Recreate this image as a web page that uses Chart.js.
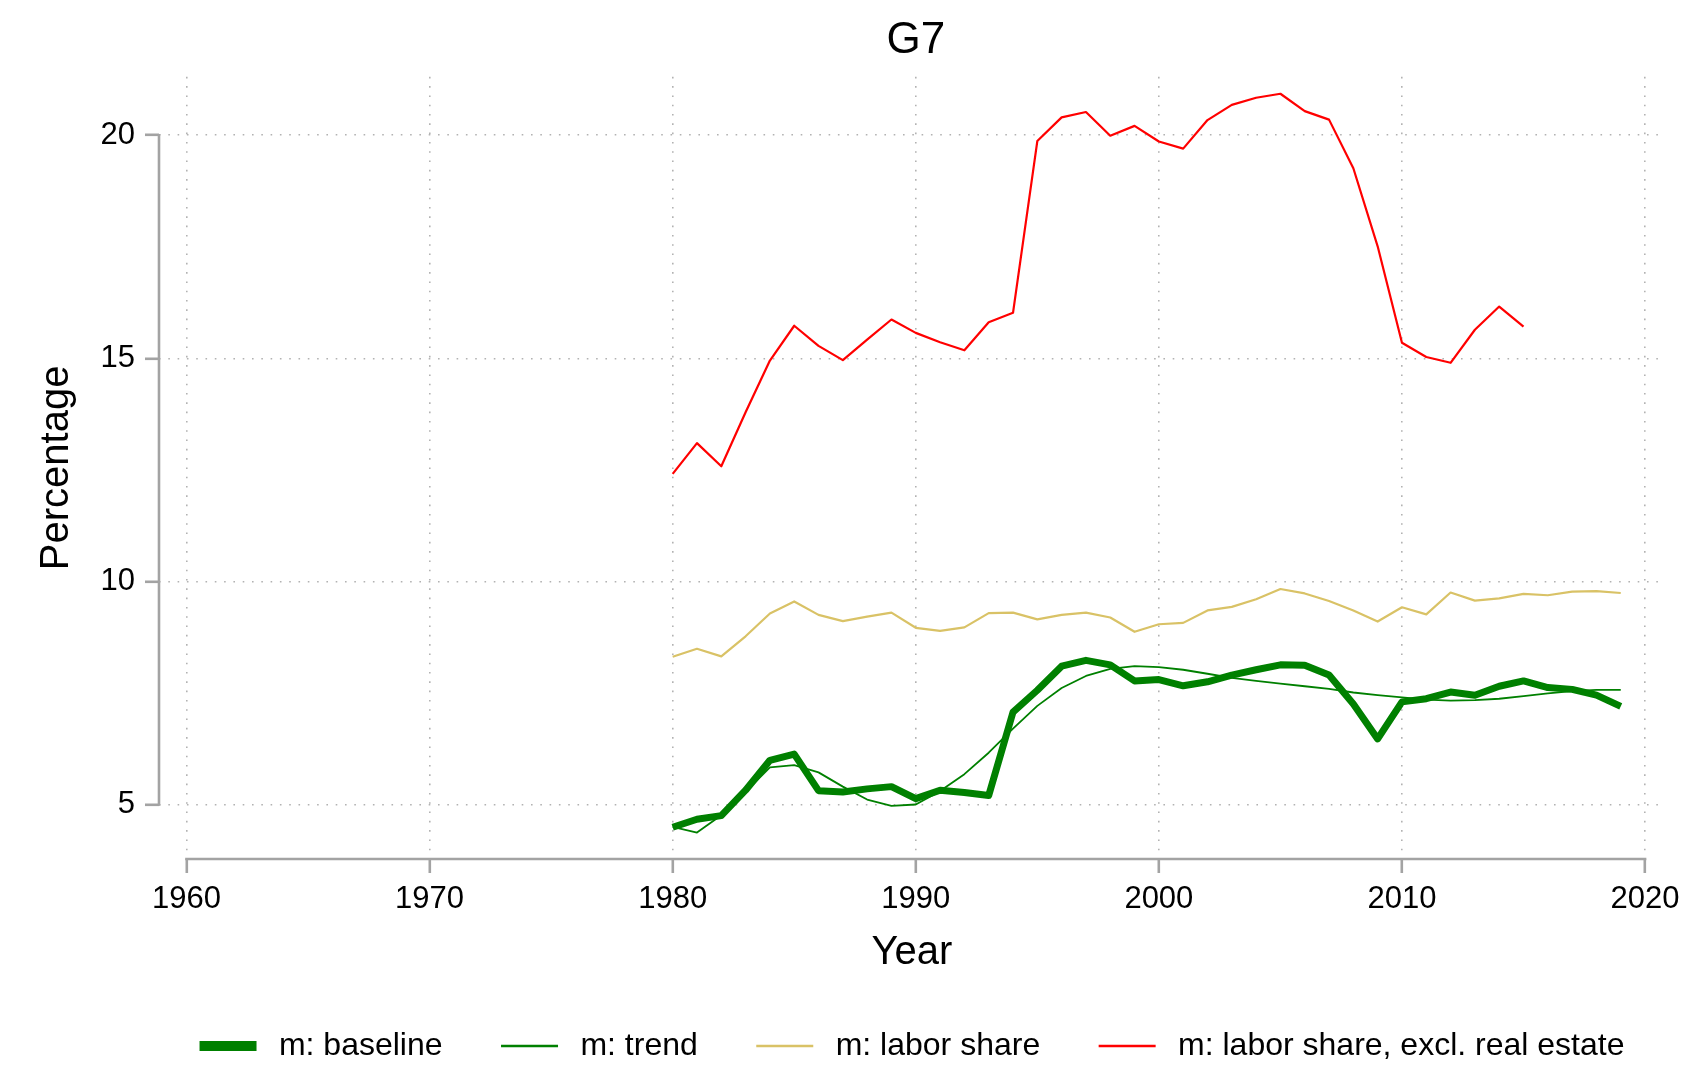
<!DOCTYPE html>
<html>
<head>
<meta charset="utf-8">
<script src="https://cdn.jsdelivr.net/npm/chart.js@4.4.1/dist/chart.umd.min.js"></script>
<style>
  html, body { margin: 0; padding: 0; background: #ffffff; }
  #wrap { width: 1689px; height: 1066px; }
</style>
</head>
<body>
<div id="wrap"><canvas id="c" width="1689" height="1066"></canvas></div>
<script>
// ---- data ----
const chartTitle = 'G7';
const xTitle = 'Year';
const yTitle = 'Percentage';
const xTicks = [1960, 1970, 1980, 1990, 2000, 2010, 2020];
const yTicks = [5, 10, 15, 20];

const years = [1980, 1981, 1982, 1983, 1984, 1985, 1986, 1987, 1988, 1989,
               1990, 1991, 1992, 1993, 1994, 1995, 1996, 1997, 1998, 1999,
               2000, 2001, 2002, 2003, 2004, 2005, 2006, 2007, 2008, 2009,
               2010, 2011, 2012, 2013, 2014, 2015, 2016, 2017, 2018, 2019];

const baseline = [4.49, 4.67, 4.75, 5.32, 5.99, 6.13, 5.31, 5.28, 5.35, 5.40,
                  5.13, 5.32, 5.27, 5.20, 7.07, 7.56, 8.10, 8.23, 8.13, 7.77,
                  7.80, 7.66, 7.75, 7.90, 8.02, 8.13, 8.12, 7.90, 7.25, 6.47,
                  7.30, 7.37, 7.52, 7.45, 7.65, 7.77, 7.62, 7.58, 7.45, 7.20];

const trend = [4.50, 4.37, 4.76, 5.28, 5.83, 5.88, 5.72, 5.40, 5.11, 4.97,
               5.00, 5.30, 5.68, 6.16, 6.70, 7.21, 7.61, 7.88, 8.04, 8.10,
               8.08, 8.02, 7.93, 7.84, 7.77, 7.71, 7.65, 7.59, 7.51, 7.45,
               7.40, 7.35, 7.33, 7.34, 7.37, 7.43, 7.49, 7.54, 7.57, 7.57];

const laborShare = [8.31, 8.49, 8.32, 8.77, 9.28, 9.55, 9.25, 9.11, 9.21, 9.30,
                    8.96, 8.89, 8.97, 9.29, 9.30, 9.15, 9.25, 9.30, 9.19, 8.87,
                    9.04, 9.07, 9.35, 9.43, 9.60, 9.83, 9.73, 9.56, 9.35, 9.10,
                    9.42, 9.26, 9.75, 9.57, 9.62, 9.72, 9.69, 9.77, 9.78, 9.74];

const laborShareExRE = [12.41, 13.10, 12.58, 13.79, 14.95, 15.73, 15.28, 14.96, 15.42, 15.87,
                        15.57, 15.36, 15.18, 15.81, 16.02, 19.87, 20.40, 20.52, 19.99, 20.21,
                        19.86, 19.70, 20.34, 20.68, 20.84, 20.93, 20.54, 20.35, 19.26, 17.51,
                        15.35, 15.03, 14.90, 15.64, 16.16, 15.71];

const seriesLabels = ['m: baseline', 'm: trend', 'm: labor share', 'm: labor share, excl. real estate'];

// ---- styling ----
const FONT = 'Helvetica, "Liberation Sans", Arial, sans-serif';
const axisColor = '#a3a3a3';
const gridColor = '#b2b2b2';
const colors = ['#008000', '#008000', '#d9c266', '#ff0000'];
const widths = [7, 1.8, 2.2, 2.2];
const legendWidths = [10, 2.6, 2.6, 2.6];

function pts(vals) { return vals.map((v, i) => ({ x: years[i], y: v })); }

const seriesValues = [baseline, trend, laborShare, laborShareExRE];
const datasets = seriesValues.map((vals, i) => ({
  label: seriesLabels[i],
  data: pts(vals),
  borderColor: colors[i],
  backgroundColor: colors[i],
  borderWidth: widths[i],
  pointRadius: 0,
  tension: 0,
  borderJoinStyle: 'round',
  borderCapStyle: 'butt',
  order: seriesValues.length - 1 - i
}));

const axisLines = {
  id: 'axisLines',
  afterLayout(chart) {
    // centre the title on the x-axis range (as in the reference)
    const x = chart.scales.x;
    const t = chart.titleBlock;
    if (t && x) {
      t.left = x.getPixelForValue(xTicks[0]);
      t.right = x.getPixelForValue(xTicks[xTicks.length - 1]);
      t.width = t.right - t.left;
    }
  },
  beforeDatasetsDraw(chart) {
    const { ctx, chartArea, scales } = chart;
    const x = scales.x, y = scales.y;
    ctx.save();
    ctx.strokeStyle = axisColor;
    ctx.lineWidth = 2.6;
    ctx.lineCap = 'square';
    ctx.beginPath();
    ctx.moveTo(chartArea.left, y.getPixelForValue(yTicks[yTicks.length - 1]));
    ctx.lineTo(chartArea.left, y.getPixelForValue(yTicks[0]));
    ctx.moveTo(x.getPixelForValue(xTicks[0]), chartArea.bottom);
    ctx.lineTo(x.getPixelForValue(xTicks[xTicks.length - 1]), chartArea.bottom);
    ctx.stroke();
    ctx.restore();
  }
};

new Chart(document.getElementById('c'), {
  type: 'line',
  data: { datasets },
  plugins: [axisLines],
  options: {
    responsive: false,
    animation: false,
    devicePixelRatio: 1,
    layout: { padding: { left: 0, right: 24, top: 0, bottom: -6 } },
    plugins: {
      tooltip: { enabled: false },
      title: {
        display: true,
        text: chartTitle,
        fullSize: false,
        color: '#000',
        font: { family: FONT, size: 44, weight: 'normal', lineHeight: 1.2 },
        padding: { top: 14, bottom: 10 }
      },
      legend: {
        display: true,
        position: 'bottom',
        fullSize: false,
        labels: {
          usePointStyle: true,
          pointStyleWidth: 57,
          color: '#000',
          font: { family: FONT, size: 32 },
          padding: 14,
          generateLabels(chart) {
            const items = Chart.defaults.plugins.legend.labels.generateLabels(chart);
            items.sort((a, b) => a.datasetIndex - b.datasetIndex);
            items.forEach((it, i) => {
              it.pointStyle = 'line';
              it.lineWidth = legendWidths[it.datasetIndex];
              it.text = '\u2009' + it.text + (i < items.length - 1 ? '     ' : '');
            });
            return items;
          }
        }
      }
    },
    scales: {
      x: {
        type: 'linear',
        min: 1958.87,
        max: 2020.82,
        afterBuildTicks(scale) { scale.ticks = xTicks.map(v => ({ value: v })); },
        afterFit(scale) { scale.height = 157; scale.paddingLeft = 0; scale.paddingRight = 0; },
        ticks: {
          color: '#000',
          font: { family: FONT, size: 31 },
          padding: 8,
          maxRotation: 0,
          autoSkip: false,
          callback: v => String(v)
        },
        grid: {
          color: gridColor,
          lineWidth: 1.6,
          drawTicks: true,
          tickLength: 14,
          tickColor: axisColor,
          tickWidth: 2.6,
          tickBorderDash: []
        },
        border: { display: false, dash: [1.6, 7.7] },
        title: {
          display: true,
          text: xTitle,
          color: '#000',
          font: { family: FONT, size: 40, lineHeight: 1.2 },
          padding: { top: 0, bottom: 39 }
        }
      },
      y: {
        type: 'linear',
        min: 3.778,
        max: 21.31,
        afterBuildTicks(scale) { scale.ticks = yTicks.map(v => ({ value: v })); },
        afterFit(scale) { scale.width = 159; scale.paddingTop = 0; scale.paddingBottom = 0; },
        ticks: {
          color: '#000',
          font: { family: FONT, size: 31 },
          padding: 10,
          callback: v => String(v)
        },
        grid: {
          color: gridColor,
          lineWidth: 1.6,
          drawTicks: true,
          tickLength: 14,
          tickColor: axisColor,
          tickWidth: 2.6,
          tickBorderDash: []
        },
        border: { display: false, dash: [1.6, 7.7] },
        title: {
          display: true,
          text: yTitle,
          color: '#000',
          font: { family: FONT, size: 40, lineHeight: 1.2 },
          padding: { top: 33, bottom: 0 }
        }
      }
    }
  }
});
</script>
</body>
</html>
